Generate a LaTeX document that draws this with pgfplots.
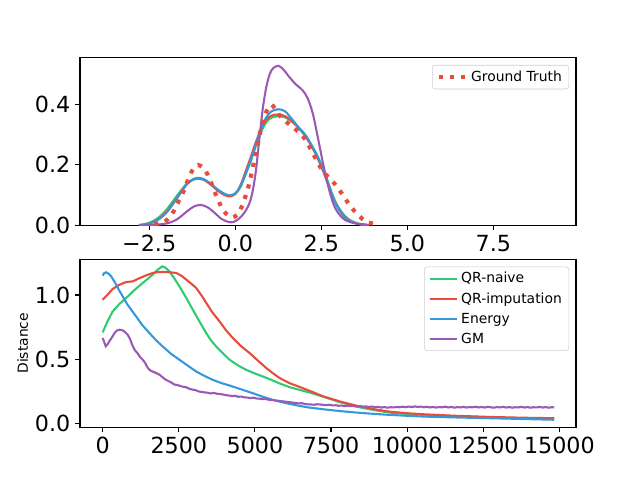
\documentclass[border=0pt]{standalone}
\usepackage{fontspec}
\setmainfont{DejaVu Sans}
\usepackage{pgfplots}
\pgfplotsset{compat=1.18}
\definecolor{cgreen}{HTML}{2ECC71}
\definecolor{cred}{HTML}{E74C3C}
\definecolor{cblue}{HTML}{3498DB}
\definecolor{cpurple}{HTML}{9B59B6}
\pgfplotsset{
  mpl/.style={
    scale only axis, width=4.96in, height=1.68in,
    axis line style={line width=0.8bp},
    every tick/.style={line width=0.8bp, black},
    tick align=outside, major tick length=3.5bp,
    xtick pos=bottom, ytick pos=left,
    scaled x ticks=false, scaled y ticks=false,
    tick label style={font=\fontsize{16bp}{19bp}\selectfont},
    /pgf/number format/assume math mode=true,
    legend cell align=left,
    legend style={at={(0.986,0.956)}, anchor=north east, draw=black!20,
      rounded corners=2bp, font=\fontsize{10bp}{12bp}\selectfont,
      inner xsep=3bp, inner ysep=2bp, row sep=1.5bp},
    legend image code/.code={\draw[##1] (0bp,0bp) -- (20bp,0bp);},
  },
  ln/.style={line width=1.5bp},
}
\begin{document}
\begin{tikzpicture}
\useasboundingbox (0,0) rectangle (6.4in,4.8in);
% ---------------- top axis
\begin{axis}[mpl, at={(0.8in,2.544in)}, anchor=south west,
  xmin=-4.51, xmax=9.9, ymin=0, ymax=0.553,
  xtick={-2.5,0,2.5,5,7.5}, xticklabels={−2.5,0.0,2.5,5.0,7.5},
  ytick={0,0.2,0.4}, yticklabels={0.0,0.2,0.4}]
\addplot[cgreen, ln, smooth, forget plot] coordinates {
(-2.8,0.002) (-2.6,0.006) (-2.4,0.014) (-2.2,0.029) (-2.0,0.052) (-1.8,0.082)
(-1.6,0.112) (-1.4,0.139) (-1.2,0.152) (-1.05,0.154) (-0.9,0.150) (-0.7,0.136)
(-0.5,0.117) (-0.3,0.103) (-0.16,0.099) (0.0,0.104) (0.15,0.127) (0.3,0.168)
(0.45,0.212) (0.6,0.262) (0.75,0.308) (0.9,0.340) (1.05,0.355) (1.25,0.360)
(1.45,0.356) (1.65,0.342) (1.85,0.322) (2.05,0.296) (2.25,0.258) (2.4,0.226)
(2.55,0.188) (2.7,0.142) (2.85,0.095) (3.0,0.060) (3.2,0.030) (3.4,0.014)
(3.6,0.006) (3.85,0.002)};
\addplot[cred, ln, smooth, forget plot] coordinates {
(-2.8,0.001) (-2.6,0.004) (-2.4,0.011) (-2.2,0.024) (-2.0,0.045) (-1.8,0.075)
(-1.6,0.107) (-1.4,0.137) (-1.2,0.153) (-1.05,0.155) (-0.9,0.150) (-0.7,0.134)
(-0.5,0.114) (-0.3,0.100) (-0.16,0.096) (0.0,0.104) (0.15,0.132) (0.3,0.178)
(0.45,0.225) (0.6,0.275) (0.75,0.318) (0.9,0.348) (1.05,0.362) (1.25,0.366)
(1.45,0.360) (1.65,0.343) (1.85,0.320) (2.05,0.292) (2.25,0.254) (2.4,0.220)
(2.55,0.180) (2.7,0.135) (2.85,0.090) (3.0,0.056) (3.2,0.027) (3.4,0.012)
(3.6,0.005) (3.85,0.001)};
\addplot[cblue, ln, smooth, forget plot] coordinates {
(-2.8,0.001) (-2.6,0.004) (-2.4,0.010) (-2.2,0.022) (-2.0,0.042) (-1.8,0.072)
(-1.6,0.105) (-1.4,0.137) (-1.2,0.154) (-1.05,0.157) (-0.9,0.152) (-0.7,0.137)
(-0.5,0.118) (-0.3,0.104) (-0.16,0.100) (0.0,0.106) (0.15,0.128) (0.3,0.170)
(0.45,0.215) (0.6,0.268) (0.75,0.318) (0.9,0.356) (1.05,0.376) (1.25,0.383)
(1.45,0.376) (1.65,0.350) (1.85,0.322) (2.05,0.296) (2.25,0.258) (2.4,0.225)
(2.55,0.185) (2.7,0.138) (2.85,0.090) (3.0,0.055) (3.2,0.025) (3.4,0.011)
(3.6,0.005) (3.85,0.001)};
\addplot[cpurple, ln, smooth, forget plot] coordinates {
(-2.8,0.000) (-2.4,0.002) (-2.0,0.007) (-1.7,0.020) (-1.4,0.047) (-1.2,0.063)
(-1.0,0.068) (-0.8,0.060) (-0.6,0.042) (-0.4,0.022) (-0.2,0.012) (-0.05,0.012)
(0.1,0.022) (0.25,0.040) (0.4,0.070) (0.5,0.110) (0.6,0.180) (0.7,0.285)
(0.8,0.385) (0.9,0.455) (1.0,0.498) (1.1,0.518) (1.25,0.526) (1.4,0.514)
(1.55,0.492) (1.75,0.466) (1.95,0.446) (2.1,0.420) (2.25,0.370) (2.4,0.290)
(2.55,0.205) (2.7,0.130) (2.85,0.072) (3.0,0.040) (3.2,0.018) (3.5,0.007)
(3.9,0.002)};
\addplot[cred, line width=3bp, dash pattern=on 3bp off 4.95bp, smooth] coordinates {
(-2.35,0.004) (-2.2,0.008) (-2.05,0.013) (-1.9,0.028) (-1.8,0.045) (-1.7,0.068)
(-1.6,0.090) (-1.5,0.113) (-1.4,0.142) (-1.3,0.170) (-1.2,0.190) (-1.08,0.199)
(-0.95,0.193) (-0.85,0.178) (-0.75,0.155) (-0.6,0.112) (-0.47,0.077) (-0.35,0.050)
(-0.2,0.033) (-0.07,0.027) (0.05,0.035) (0.15,0.052) (0.27,0.087) (0.37,0.123)
(0.45,0.160) (0.51,0.192) (0.59,0.230) (0.65,0.265) (0.72,0.305) (0.8,0.340)
(0.88,0.368) (0.96,0.388) (1.06,0.398) (1.15,0.385) (1.28,0.364) (1.48,0.342)
(1.70,0.322) (1.94,0.298) (2.10,0.271) (2.27,0.235) (2.41,0.205) (2.58,0.174)
(2.81,0.148) (3.00,0.121) (3.19,0.090) (3.36,0.061) (3.58,0.035) (3.79,0.013)
(4.13,0.004)};
\addlegendentry{Ground Truth}
\end{axis}
% ---------------- bottom axis
\begin{axis}[mpl, at={(0.8in,0.528in)}, anchor=south west,
  xmin=-745, xmax=15545, ymin=-0.031, ymax=1.279,
  xtick={0,2500,5000,7500,10000,12500,15000},
  xticklabels={0,2500,5000,7500,10000,12500,15000},
  ytick={0,0.5,1}, yticklabels={0.0,0.5,1.0},
  ylabel={Distance},
  every axis y label/.style={at={(axis description cs:-0.1155,0.5)}, rotate=90,
    anchor=center, font=\fontsize{10bp}{12bp}\selectfont}]
\addplot[cgreen, ln] coordinates {
(0,0.708) (150,0.790) (329,0.872) (550,0.930) (770,0.976) (1050,1.040)
(1316,1.094) (1500,1.130) (1645,1.159) (1800,1.195) (1954,1.223) (2050,1.215)
(2194,1.184) (2350,1.130) (2522,1.067) (2750,0.975) (2960,0.885) (3200,0.785)
(3401,0.703) (3560,0.645) (3730,0.598) (3950,0.545) (4167,0.495) (4450,0.450)
(4716,0.416) (5000,0.388) (5263,0.364) (5550,0.337) (5811,0.310) (6141,0.281)
(6500,0.258) (6900,0.232) (7236,0.207) (7785,0.165) (8334,0.129) (8900,0.103)
(9430,0.083) (10000,0.072) (10525,0.065) (11600,0.054) (12719,0.046)
(13800,0.038) (14830,0.033)};
\addlegendentry{QR-naive}
\addplot[cred, ln] coordinates {
(0,0.963) (150,1.000) (329,1.047) (550,1.080) (770,1.101) (987,1.106)
(1200,1.130) (1426,1.153) (1600,1.168) (1756,1.177) (2000,1.180) (2194,1.177)
(2414,1.172) (2600,1.148) (2743,1.120) (2900,1.090) (3071,1.055) (3250,0.995)
(3401,0.938) (3600,0.865) (3838,0.794) (4050,0.725) (4276,0.664) (4550,0.600)
(4825,0.547) (5100,0.488) (5374,0.430) (5600,0.388) (5811,0.352) (6141,0.312)
(6500,0.280) (6900,0.243) (7236,0.210) (7785,0.170) (8334,0.137) (8900,0.110)
(9430,0.090) (10000,0.078) (10525,0.070) (11600,0.058) (12719,0.049)
(13800,0.043) (14830,0.039)};
\addlegendentry{QR-imputation}
\addplot[cblue, ln] coordinates {
(0,1.151) (50,1.170) (112,1.177) (200,1.165) (276,1.146) (400,1.100)
(520,1.045) (658,0.989) (800,0.930) (950,0.880) (1098,0.833) (1300,0.765)
(1536,0.703) (1750,0.648) (1973,0.598) (2250,0.540) (2522,0.495) (2800,0.448)
(3071,0.403) (3350,0.368) (3618,0.338) (3900,0.313) (4167,0.294) (4550,0.264)
(4934,0.234) (5250,0.207) (5592,0.182) (5950,0.160) (6360,0.140) (6750,0.123)
(7236,0.109) (7785,0.095) (8334,0.083) (8900,0.073) (9430,0.065) (10000,0.058)
(10525,0.052) (11600,0.045) (12719,0.039) (13800,0.033) (14830,0.027)};
\addlegendentry{Energy}
\addplot[cpurple, ln] coordinates {
(0,0.664) (40,0.640) (100,0.600) (160,0.615) (220,0.640) (300,0.668) (380,0.700)
(460,0.722) (548,0.729) (640,0.726) (730,0.712) (822,0.690) (900,0.655) (980,0.605)
(1060,0.568) (1150,0.545) (1230,0.515) (1316,0.495) (1400,0.468) (1480,0.432)
(1560,0.412) (1650,0.402) (1750,0.392) (1865,0.378) (1950,0.362) (2050,0.342)
(2150,0.330) (2250,0.318) (2350,0.302) (2450,0.298) (2550,0.290) (2650,0.284)
(2750,0.280) (2850,0.268) (2950,0.262) (3050,0.258) (3150,0.248) (3250,0.244)
(3350,0.240) (3450,0.238) (3550,0.232) (3650,0.236) (3750,0.230) (3850,0.228)
(3950,0.224) (4050,0.219) (4150,0.216) (4250,0.212) (4350,0.214) (4450,0.206)
(4550,0.208) (4650,0.202) (4750,0.200) (4850,0.196) (4950,0.199) (5050,0.193)
(5150,0.191) (5250,0.188) (5350,0.190) (5450,0.183) (5550,0.181) (5650,0.178)
(5750,0.176) (5850,0.172) (5950,0.170) (6050,0.166) (6150,0.164) (6250,0.160)
(6350,0.157) (6450,0.155) (6550,0.156) (6650,0.150) (6750,0.147) (6850,0.146)
(6950,0.144) (7050,0.148) (7150,0.146) (7250,0.143) (7350,0.141) (7450,0.144)
(7550,0.139) (7650,0.140) (7750,0.136) (7850,0.138) (7950,0.134) (8050,0.137)
(8150,0.133) (8250,0.135) (8350,0.131) (8450,0.134) (8550,0.129) (8650,0.131)
(8750,0.127) (8850,0.130) (8950,0.125) (9050,0.128) (9150,0.122) (9250,0.126)
(9350,0.121) (9450,0.125) (9550,0.123) (9650,0.127) (9750,0.124) (9850,0.129)
(9950,0.125) (10050,0.130) (10150,0.126) (10250,0.131) (10350,0.127) (10450,0.130)
(10550,0.124) (10650,0.128) (10750,0.123) (10850,0.127) (10950,0.122) (11050,0.126)
(11150,0.124) (11250,0.129) (11350,0.123) (11450,0.127) (11550,0.121) (11650,0.126)
(11750,0.123) (11850,0.128) (11950,0.122) (12050,0.126) (12150,0.124) (12250,0.129)
(12350,0.123) (12450,0.127) (12550,0.122) (12650,0.128) (12750,0.124) (12850,0.121)
(12950,0.126) (13050,0.123) (13150,0.128) (13250,0.122) (13350,0.126) (13450,0.121)
(13550,0.125) (13650,0.123) (13750,0.128) (13850,0.122) (13950,0.126) (14050,0.121)
(14150,0.125) (14250,0.123) (14350,0.127) (14450,0.122) (14550,0.126) (14650,0.121)
(14750,0.125) (14830,0.123)};
\addlegendentry{GM}
\end{axis}
\end{tikzpicture}
\end{document}
